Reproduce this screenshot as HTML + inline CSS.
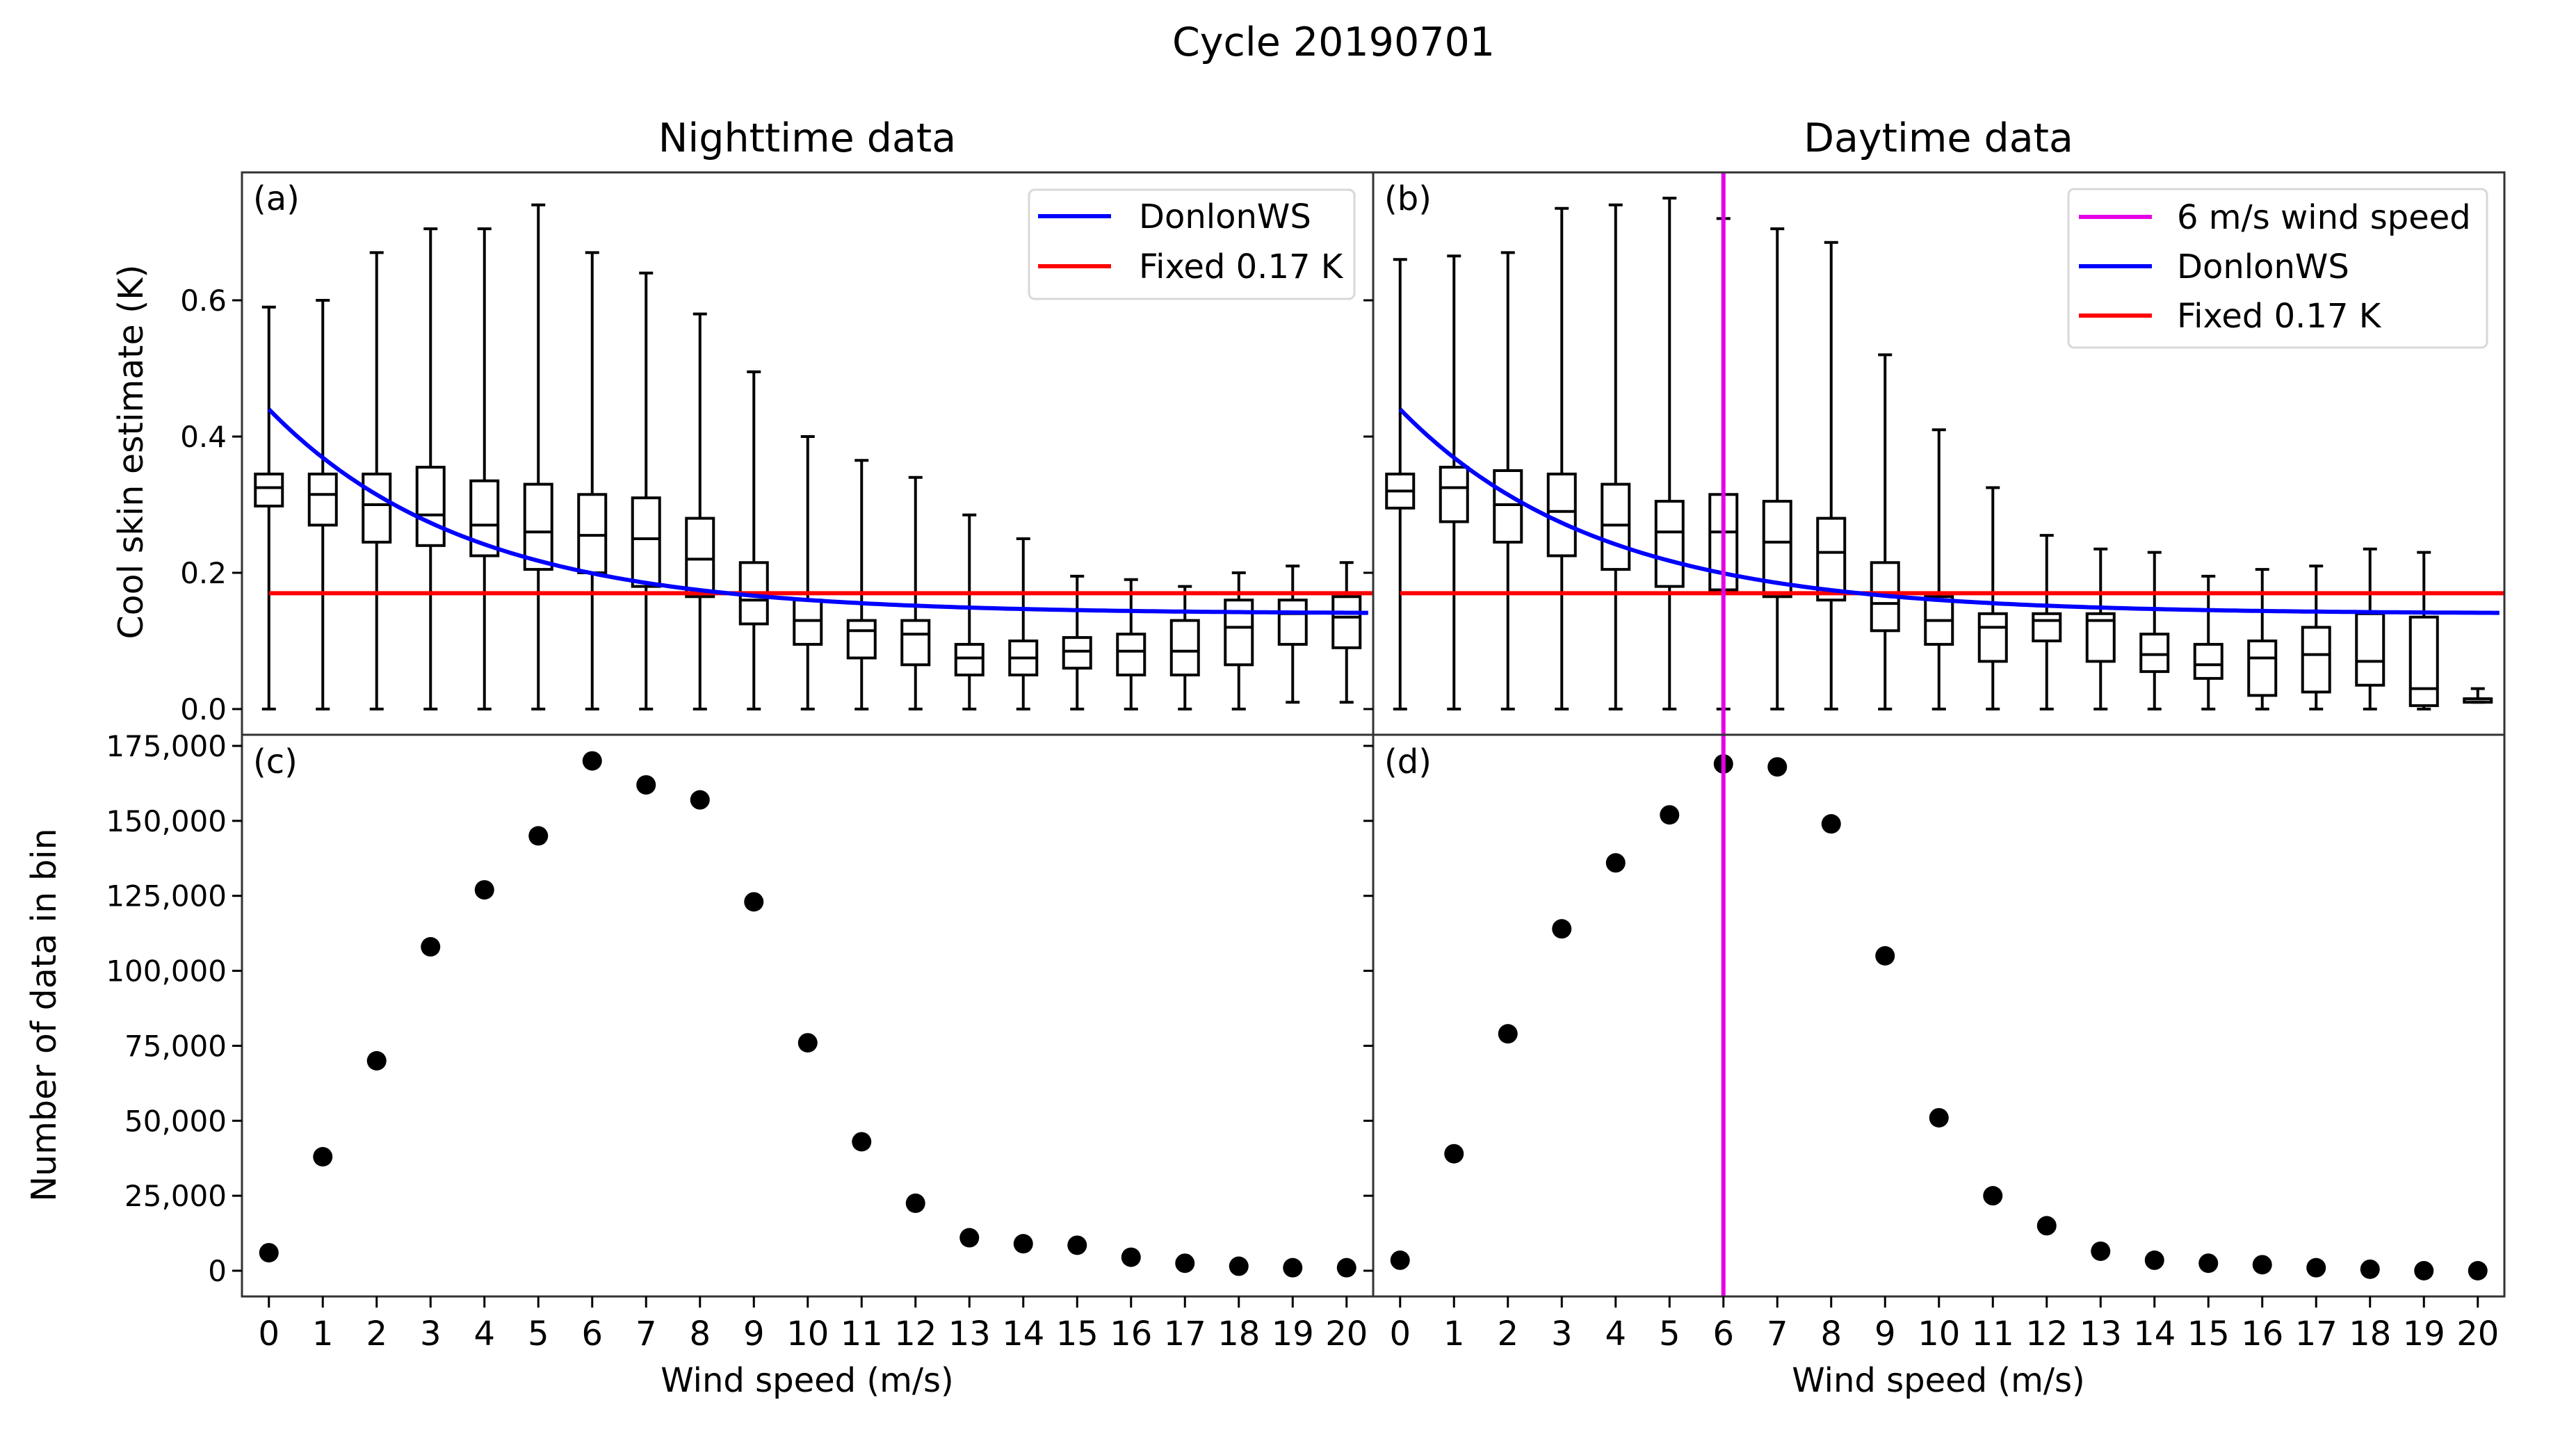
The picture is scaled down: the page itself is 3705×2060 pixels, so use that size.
<!DOCTYPE html>
<html><head><meta charset="utf-8"><style>
html,body{margin:0;padding:0;background:#fff;}
svg{display:block;font-family:"DejaVu Sans","Liberation Sans",sans-serif;}
</style></head><body>
<svg id="fig" width="3705" height="2060" viewBox="0 0 3705 2060" xmlns="http://www.w3.org/2000/svg">
<text x="1918" y="80" font-size="57" text-anchor="middle">Cycle 20190701</text>
<text x="1161" y="218" font-size="57" text-anchor="middle">Nighttime data</text>
<text x="2788" y="218" font-size="57" text-anchor="middle">Daytime data</text>
<text transform="translate(205,650) rotate(-90)" font-size="49" text-anchor="middle">Cool skin estimate (K)</text>
<text transform="translate(80,1460) rotate(-90)" font-size="49" text-anchor="middle">Number of data in bin</text>
<text x="1161" y="2002" font-size="48" text-anchor="middle">Wind speed (m/s)</text>
<text x="2788" y="2002" font-size="48" text-anchor="middle">Wind speed (m/s)</text>
<g id="plots"></g>
</svg>
<script>
const windBins = [0,1,2,3,4,5,6,7,8,9,10,11,12,13,14,15,16,17,18,19,20];
const nightWhiskHi = [.59,.60,.67,.705,.705,.74,.67,.64,.58,.495,.40,.365,.34,.285,.25,.195,.19,.18,.20,.21,.215];
const nightQ3 = [.345,.345,.345,.355,.335,.33,.315,.31,.28,.215,.16,.13,.13,.095,.10,.105,.11,.13,.16,.16,.165];
const nightMed = [.325,.315,.30,.285,.27,.26,.255,.25,.22,.16,.13,.115,.11,.075,.075,.085,.085,.085,.12,.14,.135];
const nightQ1 = [.298,.27,.245,.24,.225,.205,.20,.18,.165,.125,.095,.075,.065,.05,.05,.06,.05,.05,.065,.095,.09];
const nightWhiskLo = [0,0,0,0,0,0,0,0,0,0,0,0,0,0,0,0,0,0,0,.01,.01];
const dayWhiskHi = [.66,.665,.67,.735,.74,.75,.72,.705,.685,.52,.41,.325,.255,.235,.23,.195,.205,.21,.235,.23,.03];
const dayQ3 = [.345,.355,.35,.345,.33,.305,.315,.305,.28,.215,.165,.14,.14,.14,.11,.095,.10,.12,.14,.135,.015];
const dayMed = [.32,.325,.30,.29,.27,.26,.26,.245,.23,.155,.13,.12,.13,.13,.08,.065,.075,.08,.07,.03,.015];
const dayQ1 = [.295,.275,.245,.225,.205,.18,.175,.165,.16,.115,.095,.07,.10,.07,.055,.045,.02,.025,.035,.005,.01];
const dayWhiskLo = [0,0,0,0,0,0,0,0,0,0,0,0,0,0,0,0,0,0,0,0,.01];
const nightCounts = [6000,38000,70000,108000,127000,145000,170000,162000,157000,123000,76000,43000,22500,11000,9000,8500,4500,2500,1500,1000,1000];
const dayCounts = [3500,39000,79000,114000,136000,152000,169000,168000,149000,105000,51000,25000,15000,6500,3500,2500,2000,1000,500,0,0];
const coolTicks = [0,0.2,0.4,0.6];
const coolTickLabels = ["0.0","0.2","0.4","0.6"];
const countTicks = [0,25000,50000,75000,100000,125000,150000,175000];
const countTickLabels = ["0","25,000","50,000","75,000","100,000","125,000","150,000","175,000"];
const fixedValue = 0.17;
const highlightWind = 6;

const NS = "http://www.w3.org/2000/svg";
const root = document.getElementById('plots');
function mk(tag, attrs, parent){const e=document.createElementNS(NS,tag);for(const k in attrs)e.setAttribute(k,attrs[k]);(parent||root).appendChild(e);return e;}

const TOP_Y0=248, TOP_Y1=1057, BOT_Y0=1057, BOT_Y1=1865;
function xScale(left){return v=>left+(v+0.5)*77.5;}
const yCool = v => 1020 - v*980;
const yCount = v => 1828 - v*(755/175000);
function donlon(u){return 0.14+0.3*Math.exp(-u/3.7);}

function panel(left, wHi,q3,med,q1,wLo,counts,label1,label2,showLabels,isDay){
  const right=left+1627, xs=xScale(left);
  const g=mk('g',{});
  
  
  windBins.forEach((w,i)=>{
    const bx=mk('g',{},g);
    
    
    const cx=xs(w), hw=19.5, cw=10;
    const st={stroke:'#000','stroke-width':4,fill:'none'};
    mk('line',Object.assign({x1:cx,x2:cx,y1:yCool(wHi[i]),y2:yCool(q3[i])},st),bx);
    mk('line',Object.assign({x1:cx,x2:cx,y1:yCool(q1[i]),y2:yCool(wLo[i])},st),bx);
    mk('line',Object.assign({x1:cx-cw,x2:cx+cw,y1:yCool(wHi[i]),y2:yCool(wHi[i])},st),bx);
    mk('line',Object.assign({x1:cx-cw,x2:cx+cw,y1:yCool(wLo[i]),y2:yCool(wLo[i])},st),bx);
    mk('rect',Object.assign({x:cx-hw,y:yCool(q3[i]),width:2*hw,height:Math.max(1,yCool(q1[i])-yCool(q3[i]))},st),bx);
    mk('line',Object.assign({x1:cx-hw,x2:cx+hw,y1:yCool(med[i]),y2:yCool(med[i])},st),bx);
  });
  const fl=mk('line',{x1:xs(0),x2:right,y1:yCool(fixedValue),y2:yCool(fixedValue),stroke:'#ff0000','stroke-width':6},g);
  
  
  let d='';
  for(let u=0;u<=20.5;u+=0.1){d+=(d?'L':'M')+xs(u).toFixed(1)+','+yCool(donlon(u)).toFixed(1);}
  const dl=mk('path',{d:d,stroke:'#0000ff','stroke-width':6,fill:'none'},g);
  
  
  windBins.forEach((w,i)=>{
    const c=mk('circle',{cx:xs(w),cy:yCount(counts[i]),r:14,fill:'#000'},g);
    
    
  });
  if(isDay){
    const ml=mk('line',{x1:xs(highlightWind),x2:xs(highlightWind),y1:TOP_Y0,y2:BOT_Y1,stroke:'#e600e6','stroke-width':6},g);
    
    
  }
  mk('rect',{x:left,y:TOP_Y0,width:1627,height:TOP_Y1-TOP_Y0,fill:'none',stroke:'#333','stroke-width':3},g);
  mk('rect',{x:left,y:BOT_Y0,width:1627,height:BOT_Y1-BOT_Y0,fill:'none',stroke:'#333','stroke-width':3},g);
  coolTicks.forEach((t,i)=>{
    mk('line',{x1:left-14,x2:left,y1:yCool(t),y2:yCool(t),stroke:'#000','stroke-width':3},g);
    if(showLabels){const tx=mk('text',{x:left-22,y:yCool(t)+15,'font-size':42,'text-anchor':'end'},g);tx.textContent=coolTickLabels[i];
      
      }
  });
  countTicks.forEach((t,i)=>{
    mk('line',{x1:left-14,x2:left,y1:yCount(t),y2:yCount(t),stroke:'#000','stroke-width':3},g);
    if(showLabels){const tx=mk('text',{x:left-22,y:yCount(t)+15,'font-size':42,'text-anchor':'end'},g);tx.textContent=countTickLabels[i];
      
      }
  });
  windBins.forEach(w=>{
    mk('line',{x1:xs(w),x2:xs(w),y1:BOT_Y1,y2:BOT_Y1+16,stroke:'#000','stroke-width':3},g);
    const tx=mk('text',{x:xs(w),y:1935,'font-size':48,'text-anchor':'middle'},g);tx.textContent=w;
    
    
  });
  const l1=mk('text',{x:left+16,y:302,'font-size':48},g);l1.textContent=label1;
  
  
  const l2=mk('text',{x:left+16,y:1112,'font-size':48},g);l2.textContent=label2;
  
  
}
panel(348,nightWhiskHi,nightQ3,nightMed,nightQ1,nightWhiskLo,nightCounts,'(a)','(c)',true,false);
panel(1975,dayWhiskHi,dayQ3,dayMed,dayQ1,dayWhiskLo,dayCounts,'(b)','(d)',false,true);

function legend(x0,y0,x1,y1,entries,lx0,lx1,tx,name){
  const g=mk('g',{});
  
  
  mk('rect',{x:x0,y:y0,width:x1-x0,height:y1-y0,rx:8,fill:'#fff','fill-opacity':0.85,stroke:'#d8d8d8','stroke-width':3},g);
  entries.forEach(e=>{
    mk('line',{x1:lx0,x2:lx1,y1:e[2],y2:e[2],stroke:e[1],'stroke-width':6},g);
    const t=mk('text',{x:tx,y:e[2]+17,'font-size':48},g);t.textContent=e[0];
    
    
  });
}
legend(1480,273,1948,430,[['DonlonWS','#0000ff',311],['Fixed 0.17 K','#ff0000',383]],1493,1598,1638,'legend-night');
legend(2975,272,3577,500,[['6 m/s wind speed','#e600e6',312],['DonlonWS','#0000ff',383],['Fixed 0.17 K','#ff0000',454]],2990,3095,3131,'legend-day');
</script>
</body></html>
